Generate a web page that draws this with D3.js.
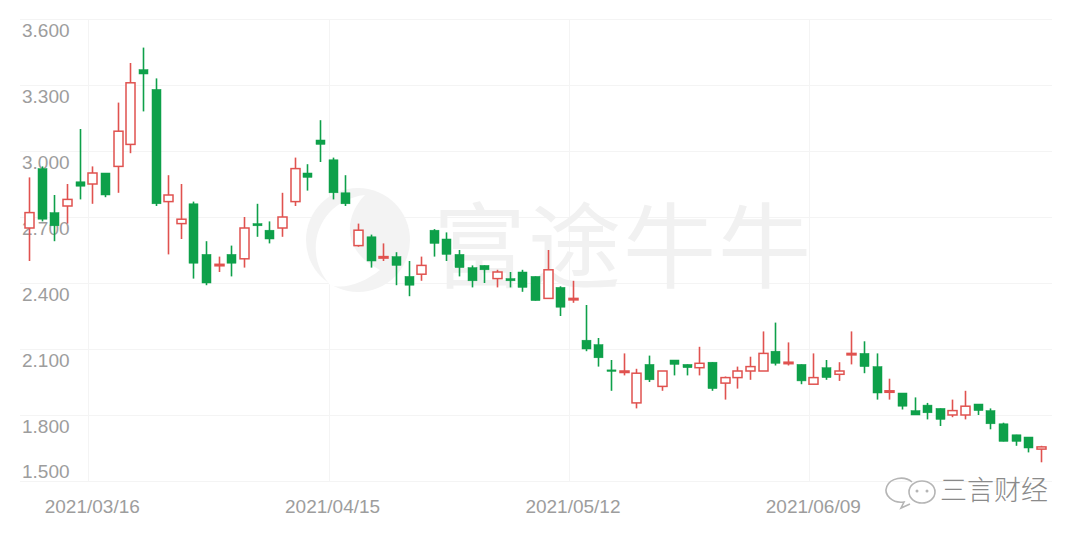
<!DOCTYPE html>
<html><head><meta charset="utf-8">
<script src="https://cdn.jsdelivr.net/npm/d3@7"></script>
<style>html,body{margin:0;padding:0;background:#fff;}svg{display:block;}</style>
</head><body>
<svg id="chart" width="1080" height="535"></svg>
<script>
const dates = ["2021/03/09","2021/03/10","2021/03/11","2021/03/12","2021/03/15","2021/03/16","2021/03/17","2021/03/18","2021/03/19","2021/03/22",
"2021/03/23","2021/03/24","2021/03/25","2021/03/26","2021/03/29","2021/03/30","2021/03/31","2021/04/01","2021/04/07","2021/04/08",
"2021/04/09","2021/04/12","2021/04/13","2021/04/14","2021/04/15","2021/04/16","2021/04/19","2021/04/20","2021/04/21","2021/04/22",
"2021/04/23","2021/04/26","2021/04/27","2021/04/28","2021/04/29","2021/04/30","2021/05/03","2021/05/04","2021/05/05","2021/05/06",
"2021/05/07","2021/05/10","2021/05/11","2021/05/12","2021/05/13","2021/05/14","2021/05/17","2021/05/18","2021/05/20","2021/05/21",
"2021/05/24","2021/05/25","2021/05/26","2021/05/27","2021/05/28","2021/05/31","2021/06/01","2021/06/02","2021/06/03","2021/06/04",
"2021/06/07","2021/06/08","2021/06/09","2021/06/10","2021/06/11","2021/06/15","2021/06/16","2021/06/17","2021/06/18","2021/06/21",
"2021/06/22","2021/06/23","2021/06/24","2021/06/25","2021/06/28","2021/06/29","2021/06/30","2021/07/02","2021/07/05","2021/07/06",
"2021/07/07"];
const openV = [2.65,2.92,2.72,2.75,2.86,2.85,2.90,2.93,3.03,3.37,
3.28,2.77,2.67,2.76,2.53,2.48,2.53,2.51,2.67,2.64,
2.65,2.77,2.90,3.05,2.96,2.81,2.57,2.61,2.515,2.52,
2.43,2.44,2.64,2.60,2.53,2.47,2.48,2.42,2.42,2.45,
2.43,2.33,2.38,2.325,2.14,2.12,2.005,1.995,1.855,2.03,
1.93,2.05,2.03,2.015,2.04,1.945,1.97,2.00,2.00,2.09,
2.035,2.03,1.94,2.015,1.985,2.075,2.08,2.02,1.905,1.90,
1.82,1.845,1.83,1.80,1.80,1.85,1.82,1.76,1.71,1.70,
1.645];
const closeV = [2.72,2.69,2.66,2.78,2.84,2.90,2.80,3.09,3.31,3.35,
2.76,2.80,2.69,2.49,2.40,2.485,2.49,2.65,2.66,2.60,
2.70,2.92,2.88,3.03,2.81,2.76,2.64,2.50,2.52,2.48,
2.39,2.48,2.58,2.53,2.47,2.41,2.46,2.45,2.41,2.38,
2.32,2.46,2.29,2.33,2.10,2.06,2.00,2.00,1.99,1.96,
2.00,2.03,2.015,2.035,1.92,1.97,2.00,2.02,2.08,2.035,
2.04,1.955,1.97,1.97,2.00,2.08,2.02,1.90,1.91,1.84,
1.80,1.81,1.78,1.82,1.84,1.82,1.76,1.68,1.68,1.65,
1.655];
const highV = [2.88,2.93,2.80,2.85,3.10,2.93,2.90,3.22,3.40,3.47,
3.33,2.89,2.85,2.77,2.59,2.52,2.57,2.70,2.76,2.68,
2.81,2.97,2.94,3.14,2.97,2.89,2.67,2.62,2.58,2.54,
2.50,2.52,2.645,2.63,2.55,2.48,2.48,2.46,2.45,2.46,
2.43,2.55,2.385,2.41,2.30,2.15,2.05,2.08,2.01,2.07,
2.00,2.05,2.03,2.11,2.04,1.975,2.02,2.065,2.18,2.22,
2.13,2.03,2.08,2.05,2.04,2.18,2.135,2.08,1.965,1.90,
1.88,1.855,1.83,1.87,1.91,1.85,1.83,1.765,1.71,1.70,
1.66];
const lowV = [2.50,2.68,2.59,2.67,2.78,2.76,2.79,2.81,2.99,3.18,
2.75,2.53,2.60,2.42,2.39,2.45,2.43,2.47,2.61,2.58,
2.61,2.75,2.82,2.95,2.78,2.75,2.565,2.47,2.50,2.39,
2.34,2.41,2.52,2.50,2.43,2.38,2.40,2.38,2.38,2.36,
2.32,2.33,2.25,2.31,2.09,2.02,1.91,1.98,1.83,1.95,
1.91,1.98,1.98,1.98,1.91,1.87,1.92,1.96,2.00,2.025,
2.025,1.94,1.94,1.96,1.955,2.03,1.99,1.87,1.87,1.825,
1.80,1.78,1.75,1.79,1.78,1.80,1.735,1.68,1.66,1.63,
1.585];
const yTicks = [1.5,1.8,2.1,2.4,2.7,3.0,3.3,3.6];
const xTickLabels = ["2021/03/16","2021/04/15","2021/05/12","2021/06/09"];

const svg = d3.select("#chart");
const x = d3.scalePoint().domain(dates).range([29, 1041]);
const y = d3.scaleLinear().domain([1.5, 3.6]).range([481, 19]);
const UP = "#e0524f", DOWN = "#0ea04a";
const font = "'Liberation Sans', Arial, 'Noto Sans', sans-serif";

// grid
const grid = svg.append("g");
grid.selectAll("line.h").data(yTicks).join("line")
  .attr("x1", 20).attr("x2", 1052)
  .attr("y1", d => Math.round(y(d)) + 0.5).attr("y2", d => Math.round(y(d)) + 0.5)
  .attr("stroke", "#f4f4f4").attr("stroke-width", 1);
grid.selectAll("line.v").data(xTickLabels).join("line")
  .attr("x1", d => Math.round(x(d)) - 3.5).attr("x2", d => Math.round(x(d)) - 3.5)
  .attr("y1", 19).attr("y2", 481)
  .attr("stroke", "#f4f4f4").attr("stroke-width", 1);

// watermark
const wm = svg.append("g");
wm.append("circle").attr("cx", 358).attr("cy", 240).attr("r", 52).attr("fill", "#f3f3f3");
wm.append("path").attr("d", "M330,285 C300,250 320,200 365,195 C345,215 340,250 380,270 C365,282 345,290 330,285 Z").attr("fill", "#fff");
wm.append("text").attr("x", 433).attr("y", 281).attr("font-size", 93)
  .attr("font-family", "'Noto Sans CJK SC', sans-serif").attr("fill", "#f1f1f1")
  .attr("letter-spacing", 2).text("富途牛牛");

// y labels
svg.append("g").selectAll("text").data(yTicks).join("text")
  .attr("x", 22)
  .attr("y", d => d === 1.5 ? y(d) - 3 : y(d) + 18)
  .attr("font-size", 19).attr("font-family", font).attr("fill", "#9d9d9d")
  .text(d => d3.format(".3f")(d));

// x labels
svg.append("g").selectAll("text").data(xTickLabels).join("text")
  .attr("x", d => x(d)).attr("y", 513).attr("text-anchor", "middle")
  .attr("font-size", 19).attr("font-family", font).attr("fill", "#9d9d9d")
  .text(d => d);

// candles
const data = dates.map((d, i) => ({d, o: openV[i], h: highV[i], l: lowV[i], c: closeV[i]}));
const bw = 9;
const cg = svg.append("g");
const candle = cg.selectAll("g").data(data).join("g");
candle.append("line")
  .attr("x1", d => Math.round(x(d.d)) + 0.5).attr("x2", d => Math.round(x(d.d)) + 0.5)
  .attr("y1", d => y(d.h)).attr("y2", d => y(d.l))
  .attr("stroke", d => d.c >= d.o ? UP : DOWN).attr("stroke-width", 1.6);
candle.append("rect")
  .attr("x", d => Math.round(x(d.d)) + 0.5 - bw / 2)
  .attr("y", d => y(Math.max(d.o, d.c)))
  .attr("width", bw)
  .attr("height", d => Math.max(1.5, Math.abs(y(d.o) - y(d.c))))
  .attr("fill", d => d.c >= d.o ? "#fff" : DOWN)
  .attr("stroke", d => d.c >= d.o ? UP : DOWN)
  .attr("stroke-width", d => d.c >= d.o ? 1.5 : 0.5);

// source mark
const sm = svg.append("g").attr("fill", "none").attr("stroke", "#b5b5b5").attr("stroke-width", 1.6);
sm.append("path").attr("d", "M912,482 a15,12 0 1,0 -8,20 l-3,6 l9,-4");
sm.append("ellipse").attr("cx", 922).attr("cy", 492).attr("rx", 13).attr("ry", 11).attr("fill", "#fff");
svg.append("circle").attr("cx", 917).attr("cy", 491).attr("r", 1.5).attr("fill", "#b5b5b5");
svg.append("circle").attr("cx", 927).attr("cy", 491).attr("r", 1.5).attr("fill", "#b5b5b5");
svg.append("text").attr("x", 940).attr("y", 500).attr("font-size", 27)
  .attr("font-family", "'Noto Sans CJK SC', sans-serif").attr("font-weight", 300)
  .attr("fill", "#8a8a8a").text("三言财经");
</script>
</body></html>
